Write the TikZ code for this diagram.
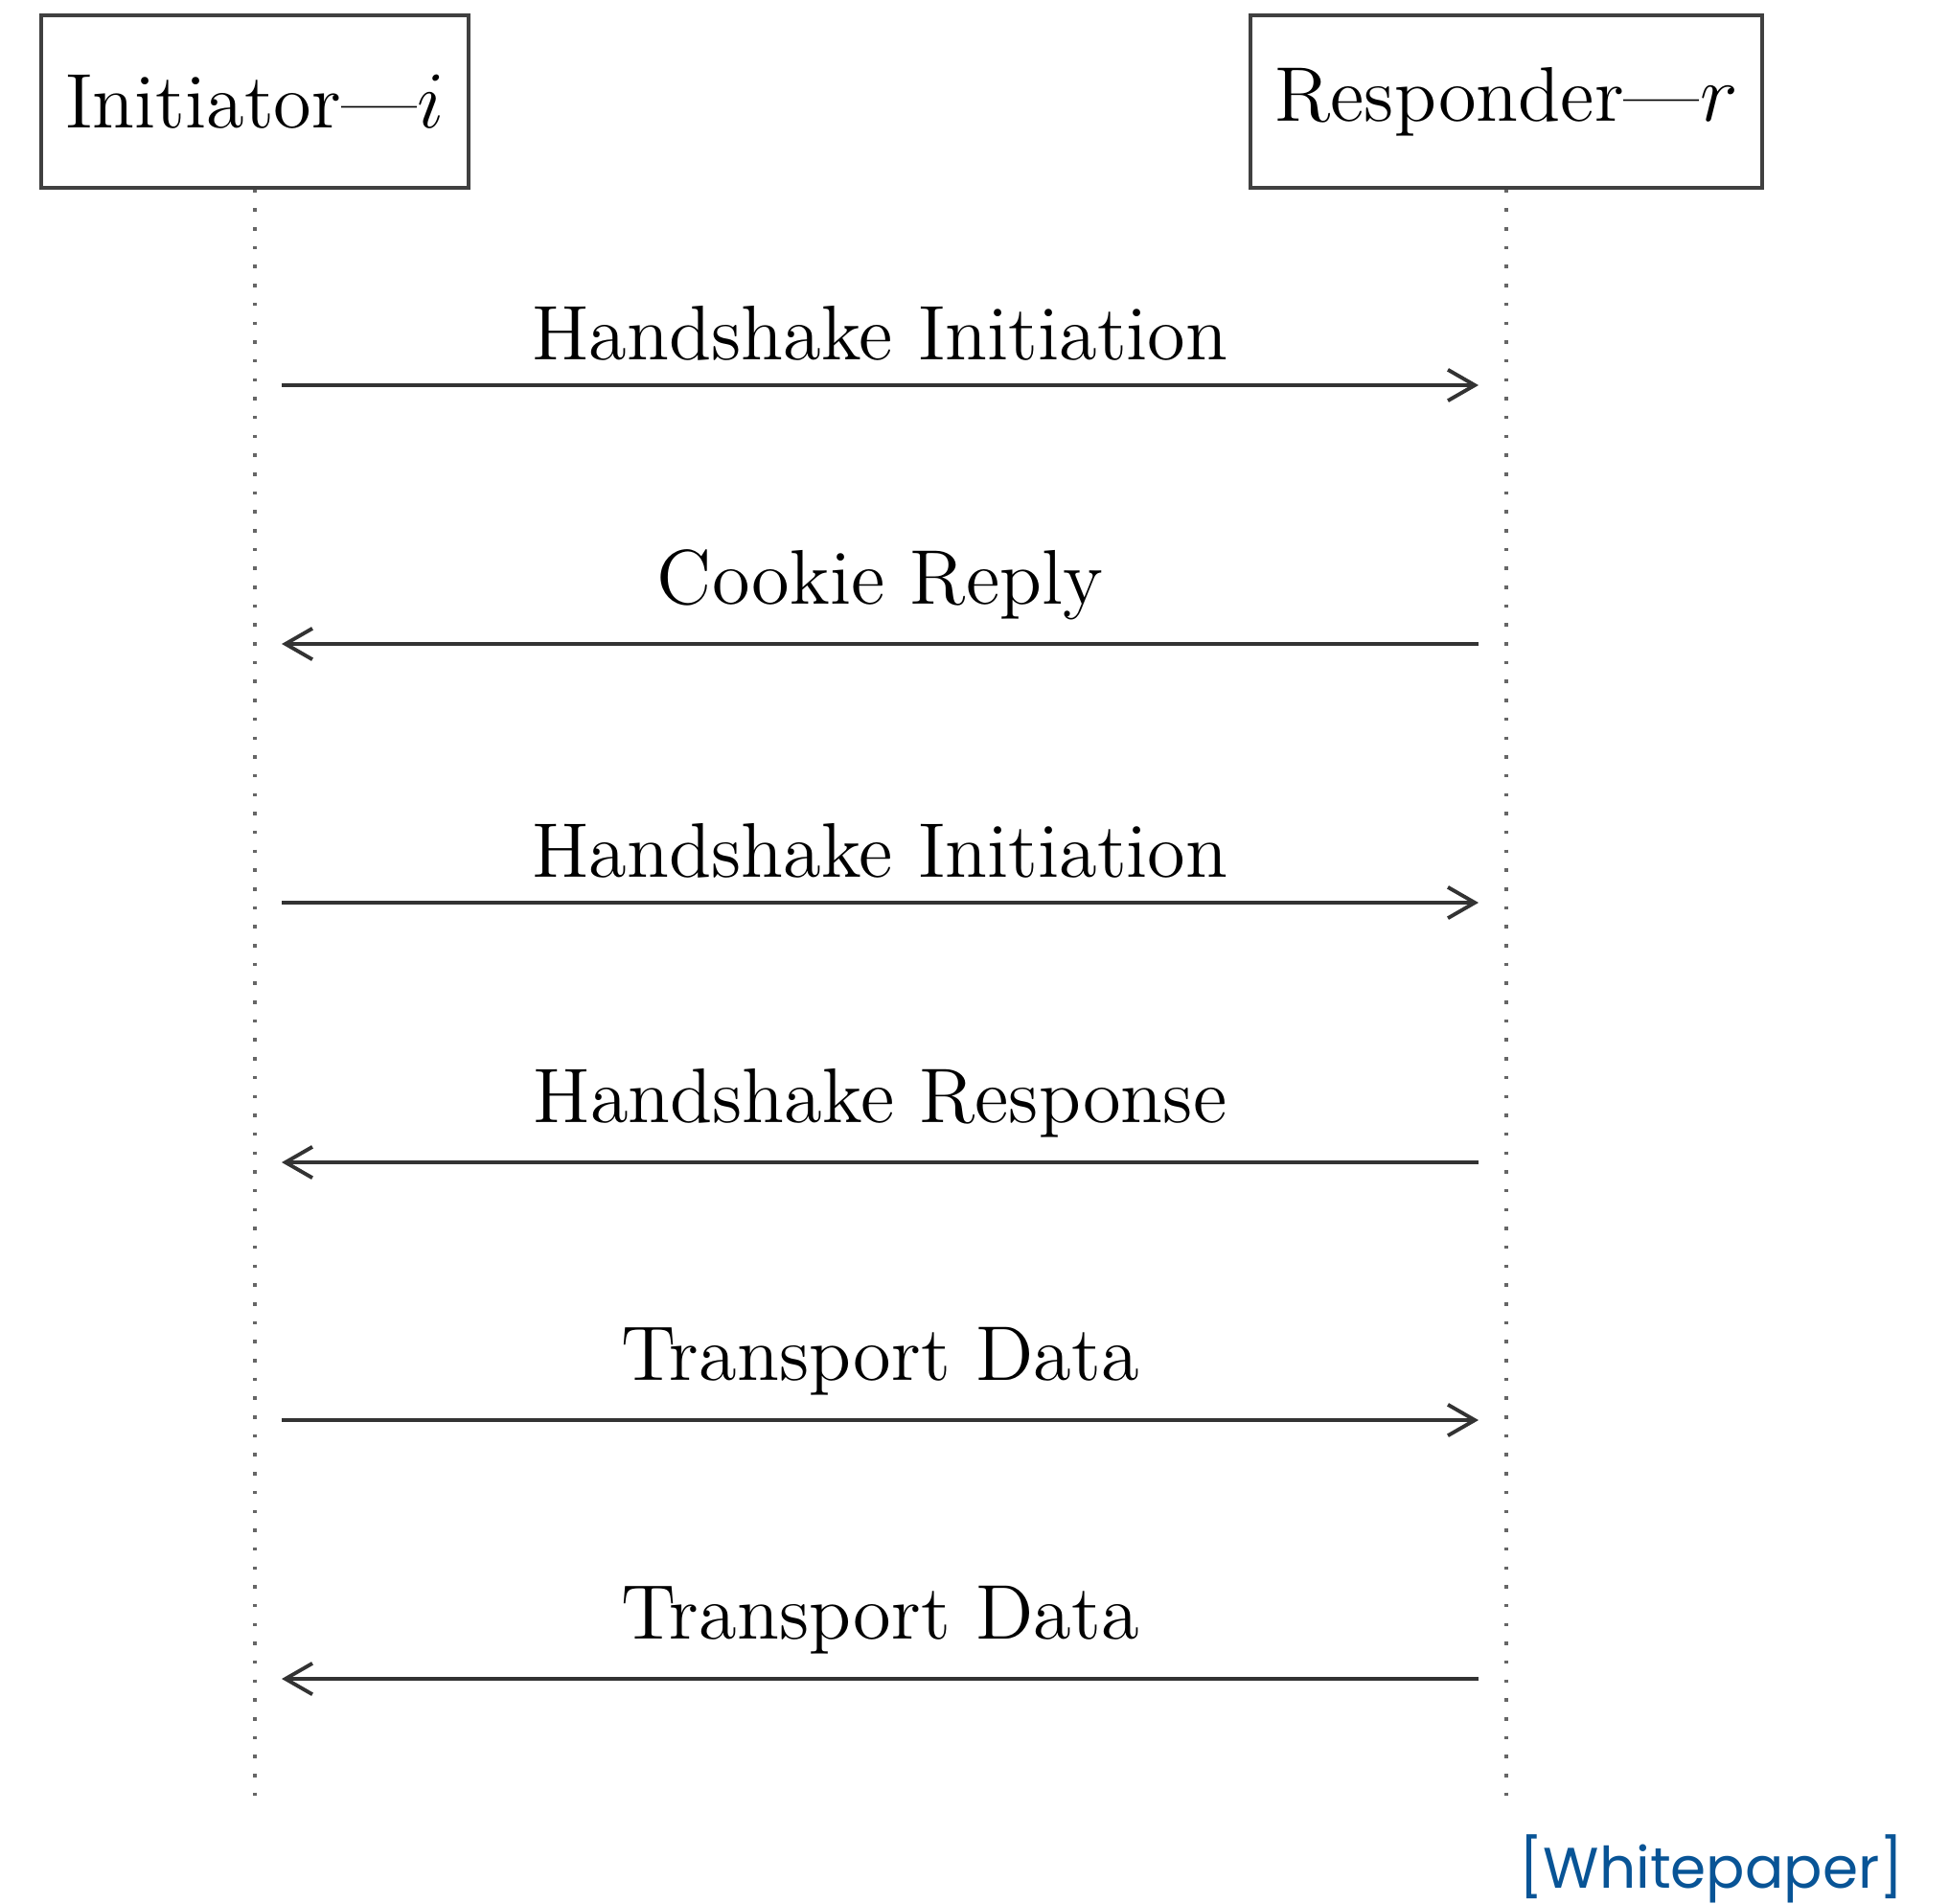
\documentclass[tikz,border=0pt]{standalone}
\usepackage{fontspec}
\usepackage{tikz}
\usetikzlibrary{arrows.meta,positioning}
\newfontfamily\wpfont{Poppins}
\definecolor{wpblue}{RGB}{8,84,150}
\tikzset{every node/.append style={font=\fontsize{11.5}{14}\selectfont}}
\tikzset{actor/.style={draw=black!75,line width=0.5pt,minimum height=0.9cm,inner xsep=0.127cm}}
\tikzset{lifeline/.style={black!60,line width=0.5pt,dash pattern=on 0.5pt off 2.3pt}}
\tikzset{msg/.style={black!80,line width=0.55pt,arrows={-Straight Barb[length=4pt,width=4.6pt]}}}
\tikzset{msglabel/.style={above,text=black}}

\begin{document}
\begin{tikzpicture}
  \useasboundingbox (0,0) rectangle (10.17,-9.93);
  \pgfmathsetmacro{\lx}{1.47}
  \pgfmathsetmacro{\rx}{7.715}
  \node[actor] (ini) at (1.33,-0.53) {Initiator---$i$};
  \node[actor] (res) at (7.86,-0.53) {Responder---$r$};
  \coordinate (iniend) at (1.33,-9.435);
  \coordinate (resend) at (7.86,-9.435);
  \draw[lifeline] (ini.south) -- (iniend);
  \draw[lifeline] (res.south) -- (resend);
  % messages
  \coordinate (m1l) at (\lx,-2.01);  \coordinate (m1r) at (\rx,-2.01);
  \coordinate (m2l) at (\lx,-3.36);  \coordinate (m2r) at (\rx,-3.36);
  \coordinate (m3l) at (\lx,-4.71);  \coordinate (m3r) at (\rx,-4.71);
  \coordinate (m4l) at (\lx,-6.065); \coordinate (m4r) at (\rx,-6.065);
  \coordinate (m5l) at (\lx,-7.41);  \coordinate (m5r) at (\rx,-7.41);
  \coordinate (m6l) at (\lx,-8.76);  \coordinate (m6r) at (\rx,-8.76);
  \draw[msg] (m1l) -- node[msglabel] (l1) {Handshake Initiation} (m1r);
  \draw[msg] (m2r) -- node[msglabel] (l2) {Cookie Reply} (m2l);
  \draw[msg] (m3l) -- node[msglabel] (l3) {Handshake Initiation} (m3r);
  \draw[msg] (m4r) -- node[msglabel] (l4) {Handshake Response} (m4l);
  \draw[msg] (m5l) -- node[msglabel] (l5) {Transport Data} (m5r);
  \draw[msg] (m6r) -- node[msglabel] (l6) {Transport Data} (m6l);
  \node[anchor=base east,inner sep=0pt,text=wpblue,font=\wpfont\fontsize{8.5}{10}\selectfont] (src) at (9.94,-9.85) {[Whitepaper]};
\end{tikzpicture}
\end{document}
